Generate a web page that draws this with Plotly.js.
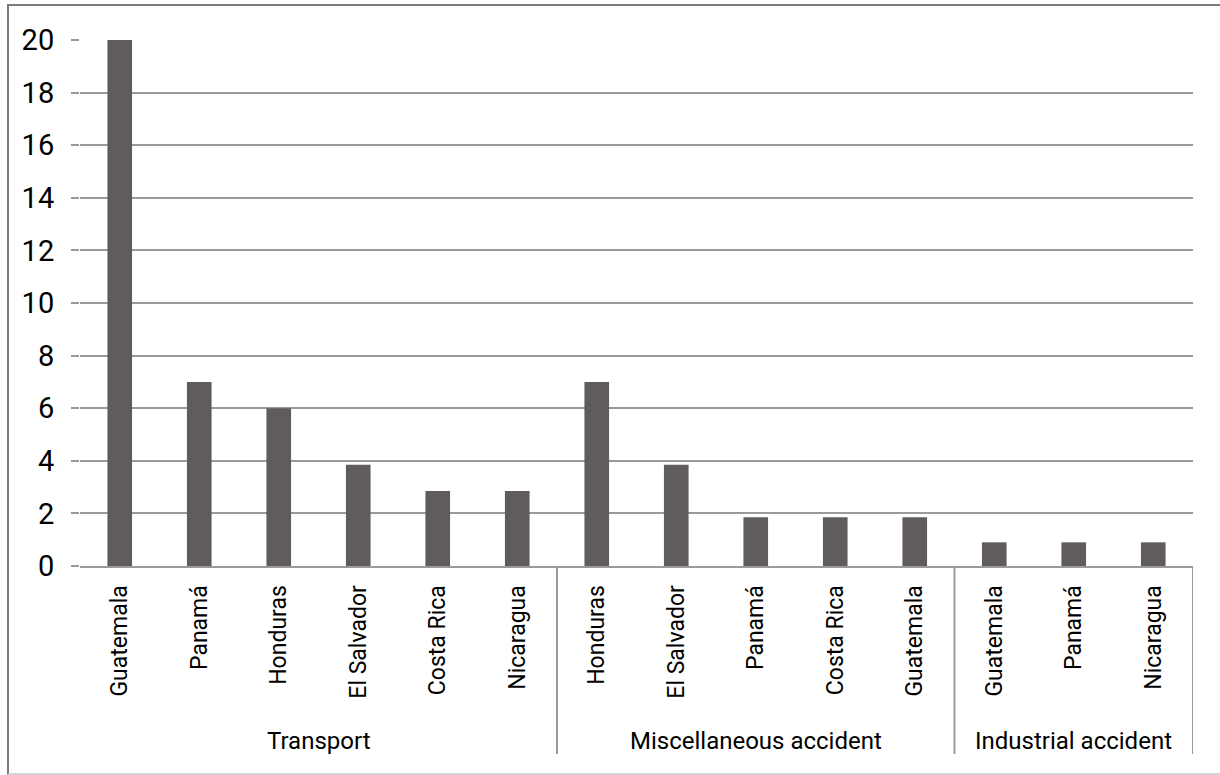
<!DOCTYPE html>
<html>
<head>
<meta charset="utf-8">
<script src="https://cdn.plot.ly/plotly-3.0.1.min.js"></script>
<style>
  html, body { margin: 0; padding: 0; background: #fff; }
  #frame { position: absolute; left: 7px; top: 4px; width: 1220px; height: 771px;
           border: 2px solid #7a7a7a; border-bottom-color: #d4d4d4; box-sizing: border-box; }
  #chart { position: absolute; left: 0; top: 0; width: 1220px; height: 775px; }
</style>
</head>
<body>
<div id="frame"></div>
<div id="chart"></div>
<script>
const groups = ["Transport","Transport","Transport","Transport","Transport","Transport",
  "Miscellaneous accident","Miscellaneous accident","Miscellaneous accident","Miscellaneous accident","Miscellaneous accident",
  "Industrial accident","Industrial accident","Industrial accident"];
const countries = ["Guatemala","Panamá","Honduras","El Salvador","Costa Rica","Nicaragua",
  "Honduras","El Salvador","Panamá","Costa Rica","Guatemala",
  "Guatemala","Panamá","Nicaragua"];
const values = [20, 7, 6, 3.85, 2.85, 2.85, 7, 3.85, 1.85, 1.85, 1.85, 0.9, 0.9, 0.9];
const yTicks = [0, 2, 4, 6, 8, 10, 12, 14, 16, 18, 20];

const font = "Roboto, 'Noto Sans', sans-serif";
const positions = countries.map((_, i) => i);

// group spans derived from the groups array
const spans = [];
groups.forEach((g, i) => {
  if (!spans.length || spans[spans.length - 1].name !== g) spans.push({ name: g, start: i, end: i });
  else spans[spans.length - 1].end = i;
});

const lineColor = "#9a9a9a";
const plotH = 775 - 40 - 209;
const dividerBottom = -(754 - 566) / plotH;
const groupLabelY = -(741 - 566) / plotH;

const shapes = [];
const bounds = [spans[0].start - 0.5].concat(spans.map(s => s.end + 0.5));
bounds.forEach((b, k) => {
  const xb = k === 0 ? b - 0.1 : b;
  shapes.push({ type: "line", xref: "x", yref: "paper", x0: xb, x1: xb, y0: 0, y1: dividerBottom,
                line: { color: lineColor, width: 2 } });
});
const annotations = spans.map(s => ({
  xref: "x", yref: "paper", x: (s.start + s.end) / 2, y: groupLabelY,
  text: s.name, showarrow: false, xanchor: "center", yanchor: "middle",
  font: { family: font, size: 24, color: "#000" }
}));

const trace = {
  type: "bar",
  x: positions,
  y: values,
  marker: { color: "#605c5b" },
  width: 0.31,
  hoverinfo: "skip"
};
const layout = {
  width: 1220, height: 775,
  margin: { l: 80, r: 27, t: 40, b: 209 },
  paper_bgcolor: "rgba(0,0,0,0)",
  plot_bgcolor: "rgba(0,0,0,0)",
  showlegend: false,
  font: { family: font, color: "#000" },
  xaxis: {
    range: [-0.5, countries.length - 0.5],
    tickmode: "array",
    tickvals: positions,
    ticktext: countries,
    tickangle: -90,
    tickfont: { family: font, size: 23, color: "#000" },
    ticklabelstandoff: 8,
    showline: true, linecolor: lineColor, linewidth: 2,
    ticks: "",
    showgrid: false, zeroline: false
  },
  yaxis: {
    range: [0, 20],
    tickmode: "array",
    tickvals: yTicks,
    ticktext: yTicks.map(String),
    tickfont: { family: font, size: 29, color: "#000" },
    ticklabelstandoff: 11,
    showgrid: true, gridcolor: lineColor, gridwidth: 2,
    ticks: "outside", ticklen: 8, tickcolor: lineColor, tickwidth: 2,
    showline: false, zeroline: false
  },
  shapes: shapes,
  annotations: annotations
};
Plotly.newPlot("chart", [trace], layout, { displayModeBar: false, staticPlot: true });
</script>
</body>
</html>
